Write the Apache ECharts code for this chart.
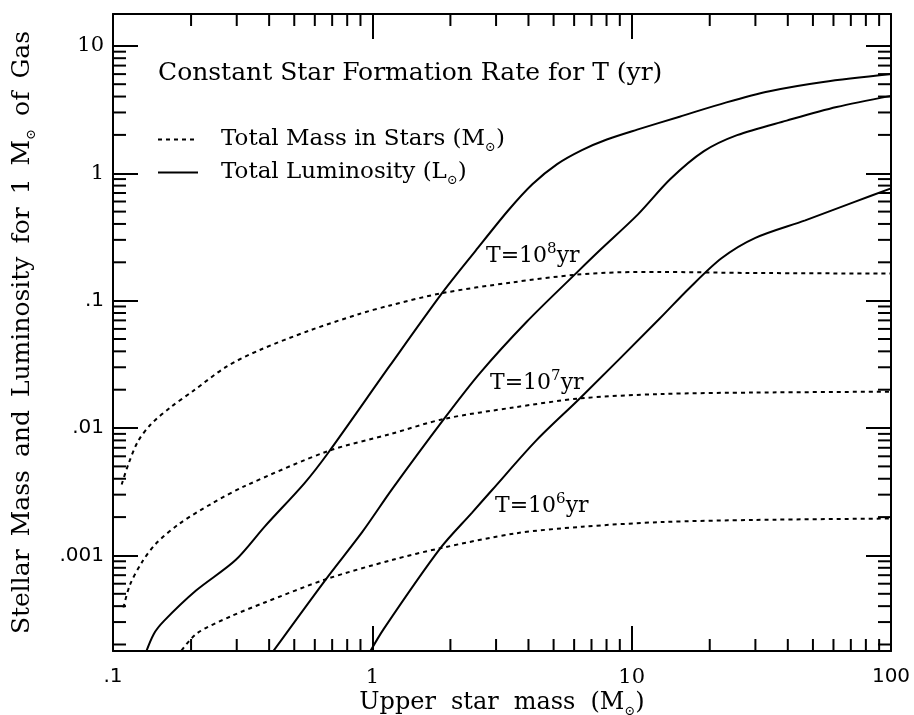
<!DOCTYPE html>
<html><head><meta charset="utf-8">
<script src="https://cdn.jsdelivr.net/npm/echarts@6/dist/echarts.min.js"></script>
<style>html,body{margin:0;padding:0;background:#fff}#c{width:914px;height:715px}</style>
</head><body><div id="c"></div>
<script>
// ---- data (upper star mass in Msun, value) ----
const massT8 = [[0.108,3.6e-3],[0.1146,5.2e-3],[0.125,7.9e-3],[0.14,0.0107],[0.167,0.0146],[0.204,0.0196],[0.275,0.0305],[0.368,0.041],[0.573,0.0583],[0.891,0.0786],[1.16,0.0913],[1.86,0.1146],[3.45,0.139],[6.14,0.160],[9.0,0.167],[12.7,0.168],[28.3,0.165],[100,0.163]];
const massT7 = [[0.1097,3.9e-4],[0.1163,5.9e-4],[0.13,9.0e-4],[0.146,1.23e-3],[0.18,1.77e-3],[0.24,2.55e-3],[0.322,3.5e-3],[0.676,6.6e-3],[1.18,9.0e-3],[1.89,0.0118],[3.5,0.0145],[6.35,0.0171],[12.9,0.0185],[30,0.019],[100,0.0193]];
const massT6 = [[0.176,1.6e-4],[0.21,2.43e-4],[0.284,3.32e-4],[0.38,4.23e-4],[0.662,6.5e-4],[1.2,9.26e-4],[1.83,1.14e-3],[3.56,1.49e-3],[6.44,1.68e-3],[13.1,1.83e-3],[30,1.9e-3],[100,1.95e-3]];
const lumT8 = [[0.132,1.6e-4],[0.1435,2.41e-4],[0.157,3.05e-4],[0.209,5.3e-4],[0.297,9.2e-4],[0.386,1.7e-3],[0.548,3.7e-3],[0.676,6.4e-3],[1.17,0.031],[1.86,0.115],[2.5,0.246],[3.34,0.51],[4.14,0.82],[5.16,1.18],[6.43,1.52],[8.02,1.84],[10.5,2.2],[15.3,2.78],[23.2,3.6],[34,4.4],[54.8,5.2],[100,6.0]];
const lumT7 = [[0.4,1.6e-4],[0.662,6.5e-4],[0.915,1.53e-3],[1.19,3.3e-3],[1.89,0.0118],[2.6,0.027],[3.93,0.068],[6.14,0.166],[7.59,0.252],[10.6,0.478],[14.1,0.9],[19,1.49],[25.5,1.99],[39.6,2.59],[61.7,3.31],[100,4.05]];
const lumT6 = [[0.955,1.6e-4],[1.107,2.65e-4],[1.83,1.14e-3],[2.42,2.16e-3],[2.89,3.25e-3],[4.29,8.0e-3],[6.35,0.0173],[12.8,0.072],[16.6,0.124],[22.2,0.215],[30,0.311],[46.7,0.427],[72.4,0.596],[100,0.76]];

// ---- axes ----
const xMin = 0.1, xMax = 100;
const yMin = Math.pow(10, -3.75), yMax = Math.pow(10, 1.25);
const xTickLabels = {'-1':'.1','0':'1','1':'10','2':'100'};
const yTickLabels = {'-3':'.001','-2':'.01','-1':'.1','0':'1','1':'10'};
const xMinorTicks = [0.2,0.3,0.4,0.5,0.6,0.7,0.8,0.9,2,3,4,5,6,7,8,9,20,30,40,50,60,70,80,90];
const yMinorTicks = [2e-4,3e-4,4e-4,5e-4,6e-4,7e-4,8e-4,9e-4,0.002,0.003,0.004,0.005,0.006,0.007,0.008,0.009,0.02,0.03,0.04,0.05,0.06,0.07,0.08,0.09,0.2,0.3,0.4,0.5,0.6,0.7,0.8,0.9,2,3,4,5,6,7,8,9];

const SERIF = '"DejaVu Serif", serif';
const SANS = '"DejaVu Sans", sans-serif';

function tickFmt(map) {
  return function (v) {
    const e = Math.log10(v);
    const r = Math.round(e);
    if (Math.abs(e - r) > 1e-6) return '';
    const s = map[String(r)];
    if (s === undefined) return '';
    return (s.indexOf('.') === 0 || s === '100') ? '{s|' + s + '}' : '{r|' + s + '}';
  };
}
const tickRich = {
  s: {fontFamily: SANS, fontSize: 20, color: '#000'},
  r: {fontFamily: SERIF, fontSize: 21, color: '#000'}
};
function richSet(size, gap) {
  return {
    b: {fontFamily: SERIF, fontSize: size, color: '#000', lineHeight: size + 6},
    w: {fontFamily: SERIF, fontSize: size, color: '#000', width: gap},
    sub: {fontFamily: SERIF, fontSize: 13, color: '#000', verticalAlign: 'bottom', lineHeight: 13},
    sup: {fontFamily: SERIF, fontSize: 15, color: '#000', verticalAlign: 'top', lineHeight: 15}
  };
}

const axisCommon = {
  type: 'log', logBase: 10,
  axisLine: {show: true, onZero: false, lineStyle: {color: '#000', width: 2}},
  axisTick: {show: true, inside: true, length: 25, lineStyle: {color: '#000', width: 2}},
  splitLine: {show: false},
  minorTick: {show: false},
  minorSplitLine: {show: false}
};

const chart = echarts.init(document.getElementById('c'), null, {renderer: 'canvas'});

function lineSeries(name, data, dotted) {
  return {
    type: 'line', name: name, data: data, symbol: 'none', smooth: 0.3,
    xAxisIndex: 0, yAxisIndex: 0, clip: true, silent: true,
    itemStyle: {color: '#000'},
    lineStyle: {color: '#000', width: 2, type: dotted ? [4, 4] : 'solid'}
  };
}

function minorX(params, api) {
  const cs = params.coordSys;
  const px = api.coord([api.value(0), yMin])[0];
  const b = cs.y + cs.height, t = cs.y;
  return {type: 'group', children: [
    {type: 'line', shape: {x1: px, y1: b, x2: px, y2: b - 12}, style: {stroke: '#000', lineWidth: 2}},
    {type: 'line', shape: {x1: px, y1: t, x2: px, y2: t + 12}, style: {stroke: '#000', lineWidth: 2}}
  ]};
}
function minorY(params, api) {
  const cs = params.coordSys;
  const py = api.coord([xMin, api.value(1)])[1];
  const l = cs.x, r = cs.x + cs.width;
  return {type: 'group', children: [
    {type: 'line', shape: {x1: l, y1: py, x2: l + 13, y2: py}, style: {stroke: '#000', lineWidth: 2}},
    {type: 'line', shape: {x1: r, y1: py, x2: r - 13, y2: py}, style: {stroke: '#000', lineWidth: 2}}
  ]};
}

const MASS = 'Total Mass in Stars';
const LUM = 'Total Luminosity';
const legendRich = richSet(23, 0);
const tRich = richSet(22, 0);

chart.setOption({
  animation: false,
  backgroundColor: '#fff',
  grid: {left: 113, right: 23, top: 14, bottom: 64, show: false, containLabel: false, outerBoundsMode: 'none'},
  title: {
    text: 'Constant Star Formation Rate for T (yr)',
    left: 158, top: 61, padding: 0,
    textStyle: {fontFamily: SERIF, fontSize: 25, fontWeight: 'normal', color: '#000'}
  },
  legend: {
    left: 157, top: 128, orient: 'vertical', selectedMode: false, padding: 0,
    itemWidth: 40, itemHeight: 14, itemGap: 7,
    itemStyle: {opacity: 0},
    data: [MASS, LUM],
    formatter: function (n) { return n === MASS ? '{b|Total Mass in Stars (M}{sub|⊙}{b|)}' : '{b|Total Luminosity (L}{sub|⊙}{b|)}'; },
    textStyle: {fontFamily: SERIF, fontSize: 23, color: '#000', padding: [0, 0, 0, 18], rich: legendRich}
  },
  xAxis: [
    Object.assign({}, axisCommon, {
      min: xMin, max: xMax, position: 'bottom', splitNumber: 3,
      axisLabel: {formatter: tickFmt(xTickLabels), margin: 16, rich: tickRich, showMinLabel: true, showMaxLabel: true},
      name: '{b|Upper}{w| }{b|star}{w| }{b|mass}{w| }{b|(M}{sub|⊙}{b|)}', nameLocation: 'middle', nameGap: 37,
      nameMoveOverlap: false,
      nameTextStyle: {rich: richSet(24, 15)}
    }),
    Object.assign({}, axisCommon, {
      min: xMin, max: xMax, position: 'top', splitNumber: 3,
      axisLabel: {show: false}
    })
  ],
  yAxis: [
    Object.assign({}, axisCommon, {
      min: yMin, max: yMax, position: 'left', splitNumber: 5,
      axisLabel: {formatter: tickFmt(yTickLabels), margin: 9, rich: tickRich, showMinLabel: false, showMaxLabel: false},
      name: '{b|Stellar}{w| }{b|Mass}{w| }{b|and}{w| }{b|Luminosity}{w| }{b|for}{w| }{b|1}{w| }{b|M}{sub|⊙}{w| }{b|of}{w| }{b|Gas}',
      nameLocation: 'middle', nameGap: 75, nameRotate: 90, nameMoveOverlap: false,
      nameTextStyle: {rich: richSet(25, 13)}
    }),
    Object.assign({}, axisCommon, {
      min: yMin, max: yMax, position: 'right', splitNumber: 5,
      axisLabel: {show: false}
    })
  ],
  graphic: [
    {type: 'text', x: 486, y: 256, style: {text: '{b|T=10}{sup|8}{b|yr}', rich: tRich, verticalAlign: 'middle'}},
    {type: 'text', x: 490, y: 383, style: {text: '{b|T=10}{sup|7}{b|yr}', rich: tRich, verticalAlign: 'middle'}},
    {type: 'text', x: 495, y: 506, style: {text: '{b|T=10}{sup|6}{b|yr}', rich: tRich, verticalAlign: 'middle'}}
  ],
  series: [
    lineSeries(MASS, massT8, true),
    lineSeries(MASS, massT7, true),
    lineSeries(MASS, massT6, true),
    lineSeries(LUM, lumT8, false),
    lineSeries(LUM, lumT7, false),
    lineSeries(LUM, lumT6, false),
    {type: 'custom', renderItem: minorX, data: xMinorTicks.map(v => [v, yMin]), silent: true, clip: false, z: 5},
    {type: 'custom', renderItem: minorY, data: yMinorTicks.map(v => [xMin, v]), silent: true, clip: false, z: 5}
  ]
});
</script>
</body></html>
